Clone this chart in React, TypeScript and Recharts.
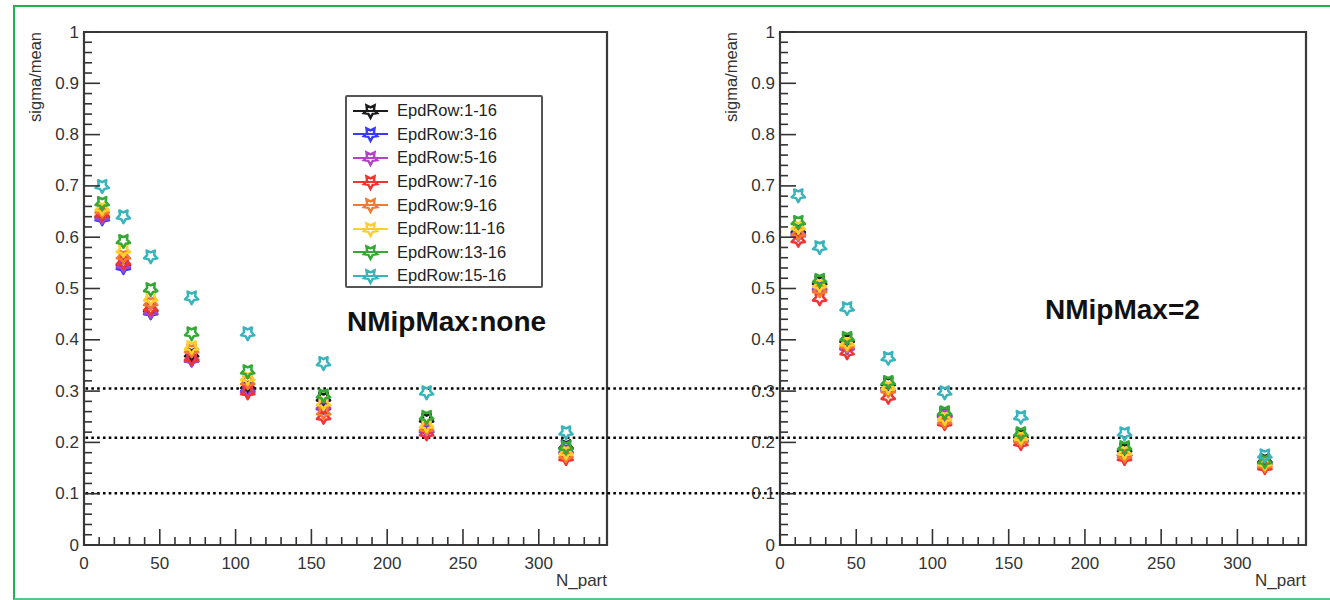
import { ScatterChart, Scatter, XAxis, YAxis, ReferenceLine, ReferenceArea, Label } from 'recharts';

// N_part for each centrality bin
const nPart = [12, 26, 44, 71, 108, 158, 226, 318];

const seriesNames = [
  'EpdRow:1-16',
  'EpdRow:3-16',
  'EpdRow:5-16',
  'EpdRow:7-16',
  'EpdRow:9-16',
  'EpdRow:11-16',
  'EpdRow:13-16',
  'EpdRow:15-16',
];

const seriesColors = [
  '#1c1c1c', // black
  '#3a3aff', // blue
  '#b044c4', // purple
  '#f03434', // red
  '#f47a30', // orange
  '#ffcf2a', // yellow
  '#35a835', // green
  '#3ab4bc', // cyan
];

// sigma/mean, NMipMax:none
const none1 = [0.643, 0.55, 0.46, 0.372, 0.31, 0.286, 0.245, 0.193];
const none3 = [0.637, 0.542, 0.454, 0.362, 0.304, 0.269, 0.224, 0.185];
const none5 = [0.64, 0.546, 0.456, 0.362, 0.302, 0.271, 0.226, 0.183];
const none7 = [0.645, 0.552, 0.462, 0.365, 0.298, 0.25, 0.218, 0.17];
const none9 = [0.652, 0.563, 0.472, 0.38, 0.318, 0.259, 0.228, 0.175];
const none11 = [0.657, 0.575, 0.481, 0.386, 0.326, 0.277, 0.234, 0.181];
const none13 = [0.667, 0.593, 0.499, 0.413, 0.339, 0.292, 0.25, 0.191];
const none15 = [0.7, 0.641, 0.563, 0.483, 0.413, 0.355, 0.298, 0.22];

// sigma/mean, NMipMax=2
const two1 = [0.614, 0.513, 0.4, 0.316, 0.255, 0.214, 0.187, 0.166];
const two3 = [0.61, 0.503, 0.386, 0.306, 0.257, 0.208, 0.179, 0.162];
const two5 = [0.606, 0.501, 0.386, 0.304, 0.253, 0.206, 0.179, 0.161];
const two7 = [0.595, 0.481, 0.376, 0.289, 0.238, 0.199, 0.17, 0.152];
const two9 = [0.608, 0.497, 0.39, 0.302, 0.242, 0.205, 0.175, 0.156];
const two11 = [0.62, 0.507, 0.394, 0.308, 0.248, 0.21, 0.181, 0.16];
const two13 = [0.63, 0.517, 0.404, 0.318, 0.259, 0.218, 0.191, 0.164];
const two15 = [0.682, 0.581, 0.462, 0.365, 0.298, 0.25, 0.218, 0.175];

const noneSeries = [none1, none3, none5, none7, none9, none11, none13, none15];
const twoSeries = [two1, two3, two5, two7, two9, two11, two13, two15];

// dotted guide lines
const guideLevels = [0.305, 0.209, 0.101];

const FONT = '"Liberation Sans", Arial, Helvetica, sans-serif';
const PLOT_LEFT = 84;
const PLOT_BOTTOM = 545;

const yTicks = Array.from({ length: 51 }, (_, i) => i / 50);
const xTicks = Array.from({ length: 35 }, (_, i) => i * 10);

const starPoints = (cx: number, cy: number, R = 7, r = 3.7) => {
  const pts: string[] = [];
  for (let k = 0; k < 10; k++) {
    const rad = k % 2 === 0 ? R : r;
    const a = ((90 + k * 36) * Math.PI) / 180;
    pts.push(`${(cx + rad * Math.cos(a)).toFixed(2)},${(cy + rad * Math.sin(a)).toFixed(2)}`);
  }
  return pts.join(' ');
};

const makeStar = (color: string) => (props: any) => {
  const { cx, cy } = props;
  if (cx == null || cy == null) return <g />;
  return <polygon points={starPoints(cx, cy)} fill="none" stroke={color} strokeWidth={2.5} strokeLinejoin="round" />;
};

const YTick = (props: any) => {
  const { y, payload } = props;
  const v = payload.value;
  const major = Math.abs(v * 10 - Math.round(v * 10)) < 1e-6;
  const label = v === 0 ? '0' : v === 1 ? '1' : v.toFixed(1);
  return (
    <g>
      <line x1={PLOT_LEFT} x2={PLOT_LEFT + (major ? 16 : 8)} y1={y} y2={y} stroke="#333" strokeWidth={1.6} />
      {major && (
        <text x={PLOT_LEFT - 5} y={y} textAnchor="end" dominantBaseline="central" fontFamily={FONT} fontSize={17} fill="#333">
          {label}
        </text>
      )}
    </g>
  );
};

const XTick = (props: any) => {
  const { x, payload } = props;
  const v = payload.value;
  const major = v % 50 === 0;
  return (
    <g>
      <line x1={x} x2={x} y1={PLOT_BOTTOM} y2={PLOT_BOTTOM - (major ? 16 : 8)} stroke="#333" strokeWidth={1.6} />
      {major && (
        <text x={x} y={PLOT_BOTTOM + 18} textAnchor="middle" dominantBaseline="central" fontFamily={FONT} fontSize={17} fill="#333">
          {v}
        </text>
      )}
    </g>
  );
};

const Panel = ({ series, width, marginRight, guideEnd }: { series: number[][]; width: number; marginRight: number; guideEnd: number }) => (
  <ScatterChart width={width} height={600} margin={{ top: 32, right: marginRight, bottom: 25, left: 24 }}>
    <style>{'.recharts-surface{overflow:visible}'}</style>
    <XAxis
      type="number"
      dataKey="x"
      domain={[0, 345]}
      ticks={xTicks}
      interval={0}
      tick={<XTick />}
      tickLine={false}
      axisLine={false}
      height={30}
      allowDataOverflow
    >
      <Label
        content={(p: any) => (
          <text x={p.viewBox.x + p.viewBox.width} y={580} textAnchor="end" dominantBaseline="central" fontFamily={FONT} fontSize={17} fill="#333">
            N_part
          </text>
        )}
      />
    </XAxis>
    <YAxis
      type="number"
      dataKey="y"
      domain={[0, 1]}
      ticks={yTicks}
      interval={0}
      tick={<YTick />}
      tickLine={false}
      axisLine={false}
      width={60}
      allowDataOverflow
    >
      <Label
        content={() => (
          <text
            x={35}
            y={32}
            transform={`rotate(-90 35 32)`}
            textAnchor="end"
            dominantBaseline="central"
            fontFamily={FONT}
            fontSize={16.5}
            fill="#333"
          >
            sigma/mean
          </text>
        )}
      />
    </YAxis>
    <ReferenceArea x1={0} x2={345} y1={0} y2={1} fill="none" fillOpacity={0} stroke="#3a3a3a" strokeWidth={2.2} ifOverflow="visible" />
    {series.map((vals, s) => (
      <Scatter
        key={seriesNames[s]}
        name={seriesNames[s]}
        data={nPart.map((x, i) => ({ x, y: vals[i] }))}
        shape={makeStar(seriesColors[s])}
        isAnimationActive={false}
      />
    ))}
    {guideLevels.map((lv) => (
      <ReferenceLine
        key={lv}
        segment={[{ x: 1, y: lv }, { x: guideEnd, y: lv }]}
        stroke="#000"
        strokeWidth={2.6}
        strokeDasharray="2.6 3.2"
        ifOverflow="visible"
      />
    ))}
  </ScatterChart>
);

const LegendBox = () => (
  <div
    style={{
      position: 'absolute',
      left: 345,
      top: 95,
      width: 194,
      height: 189,
      border: '2px solid #555',
      borderRadius: 2,
      background: '#fff',
      fontFamily: FONT,
      fontSize: 16.5,
      color: '#222',
    }}
  >
    {seriesNames.map((name, i) => (
      <div key={name} style={{ position: 'absolute', left: 5, top: 2 + i * 23.6, height: 23.6, display: 'flex', alignItems: 'center' }}>
        <svg width={38} height={20} style={{ marginRight: 7 }}>
          <line x1={1} x2={36} y1={10} y2={10} stroke={seriesColors[i]} strokeWidth={2.2} />
          <polygon points={starPoints(18.5, 10, 7, 3.6)} fill="none" stroke={seriesColors[i]} strokeWidth={2.4} />
        </svg>
        <span>{name}</span>
      </div>
    ))}
  </div>
);

export default function App() {
  return (
    <div style={{ position: 'absolute', left: 0, top: 0, width: 1330, height: 600, overflow: 'hidden', background: '#fff' }}>
      <div
        style={{
          position: 'absolute',
          left: 13,
          top: 5,
          width: 1330,
          height: 591,
          borderTop: '2px solid #22b14c',
          borderLeft: '2px solid #22b14c',
          borderBottom: '2px solid #5cc48a',
        }}
      />
      <div style={{ position: 'absolute', left: 0, top: 0 }}>
        <Panel series={noneSeries} width={790} marginRight={183} guideEnd={460} />
      </div>
      <div style={{ position: 'absolute', left: 696, top: 0 }}>
        <Panel series={twoSeries} width={634} marginRight={24} guideEnd={344} />
      </div>
      <LegendBox />
      <div style={{ position: 'absolute', left: 347, top: 307, fontFamily: FONT, fontWeight: 'bold', fontSize: 28, lineHeight: '30px', color: '#111' }}>
        NMipMax:none
      </div>
      <div style={{ position: 'absolute', left: 1045, top: 295, fontFamily: FONT, fontWeight: 'bold', fontSize: 28, lineHeight: '30px', color: '#111' }}>
        NMipMax=2
      </div>
    </div>
  );
}
